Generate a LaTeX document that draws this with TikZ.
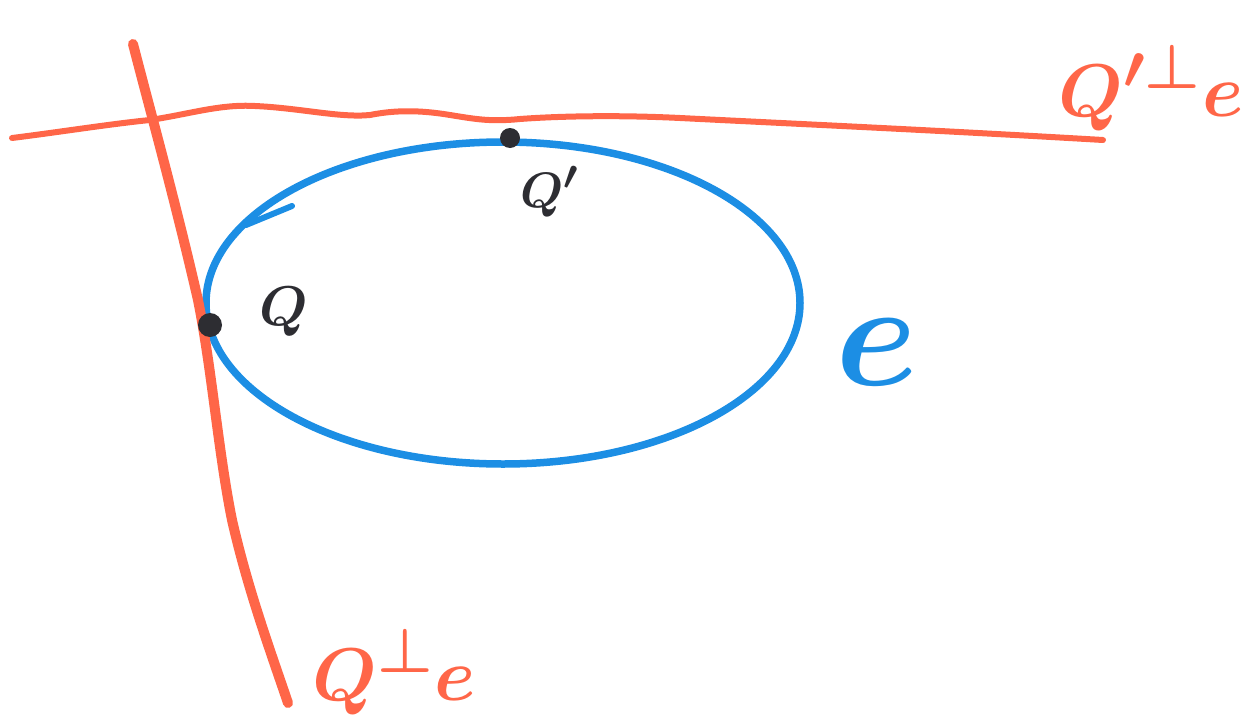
\documentclass[tikz,border=0pt]{standalone}
\definecolor{pred}{RGB}{255,102,72}
\definecolor{pblue}{RGB}{28,142,228}
\definecolor{pdot}{RGB}{45,45,50}
\tikzset{
  redline/.style={draw=pred, line cap=round, line join=round},
  blueline/.style={draw=pblue, line width=7.5pt, line cap=round},
  pointdot/.style={circle, fill=pdot, inner sep=0pt, minimum size=22pt},
  redlabel/.style={text=pred, inner sep=0pt, font=\Huge\boldmath, scale=3.0},
  darklabel/.style={text=pdot, inner sep=0pt, font=\Huge\boldmath},
}
\begin{document}
\begin{tikzpicture}[x=1pt,y=-1pt]
\useasboundingbox (0,0) rectangle (1253,723);
% coordinates for the two tangent lines
\coordinate (t0) at (12,138);
\coordinate (t9) at (1103,140);
\coordinate (v0) at (133,44);
\coordinate (v9) at (288,703);
% ellipse e
\draw[blueline] (503,303) ellipse [x radius=297, y radius=161];
% orientation barb on the ellipse
\draw[draw=pblue, line width=6pt, line cap=round] (292,206) -- (246,225);
% top tangent line (hand drawn)
\draw[redline, line width=6pt] (t0) .. controls (60,132) and (110,124) .. (150,120)
  .. controls (190,114) and (220,104) .. (255,106)
  .. controls (300,108) and (340,118) .. (370,115)
  .. controls (395,110) and (420,110) .. (450,115)
  .. controls (475,119) and (490,122) .. (520,119)
  .. controls (560,116) and (620,115) .. (680,118)
  .. controls (800,124) and (950,131) .. (t9);
% left tangent line (hand drawn)
\draw[redline, line width=10pt] (v0) .. controls (150,110) and (175,200) .. (198,300)
  .. controls (212,370) and (218,450) .. (232,520)
  .. controls (248,590) and (270,650) .. (v9);
% points
\node[pointdot, minimum size=24pt] (Q) at (210,325) {};
\node[pointdot, minimum size=20pt] (Qp) at (510,138) {};
% labels
\node[darklabel, scale=2.25] (Qlab) at (284,312) {$Q$};
\node[darklabel, scale=2.0] (Qplab) at (550,192) {$Q'$};
\node[text=pblue, inner sep=0pt, font=\Huge\boldmath, scale=6] (elab) at (877,352) {$e$};
\node[redlabel, anchor=base west] (toplab) at (1058,116) {$Q'^{\perp}e$};
\node[redlabel, anchor=base west] (botlab) at (312,700) {$Q^{\perp}e$};
\end{tikzpicture}
\end{document}
